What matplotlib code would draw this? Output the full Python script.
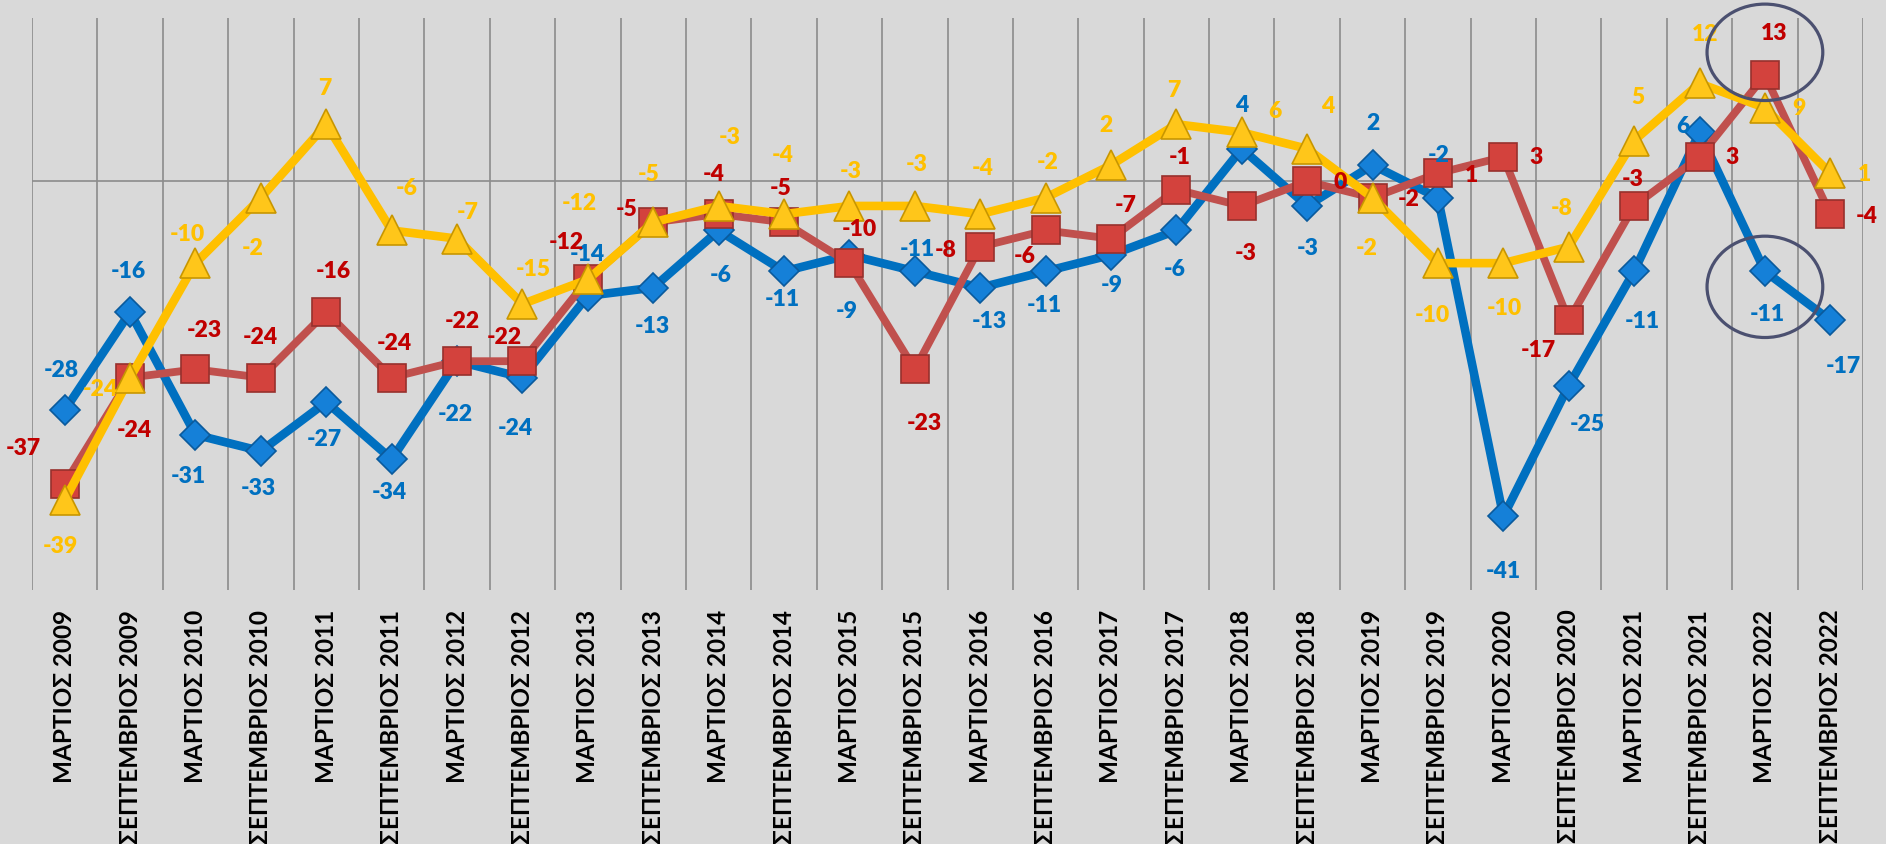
"""
三組指標折線圖 (ΜΑΡΤΙΟΣ 2009 - ΣΕΠΤΕΜΒΡΙΟΣ 2022)，帶數值標籤與圈注。
"""

import numpy as np
import matplotlib.pyplot as plt
from matplotlib.patches import Ellipse


# ==================== 數據 ====================

CATEGORIES = [
    "ΜΑΡΤΙΟΣ 2009", "ΣΕΠΤΕΜΒΡΙΟΣ 2009", "ΜΑΡΤΙΟΣ 2010", "ΣΕΠΤΕΜΒΡΙΟΣ 2010",
    "ΜΑΡΤΙΟΣ 2011", "ΣΕΠΤΕΜΒΡΙΟΣ 2011", "ΜΑΡΤΙΟΣ 2012", "ΣΕΠΤΕΜΒΡΙΟΣ 2012",
    "ΜΑΡΤΙΟΣ 2013", "ΣΕΠΤΕΜΒΡΙΟΣ 2013", "ΜΑΡΤΙΟΣ 2014", "ΣΕΠΤΕΜΒΡΙΟΣ 2014",
    "ΜΑΡΤΙΟΣ 2015", "ΣΕΠΤΕΜΒΡΙΟΣ 2015", "ΜΑΡΤΙΟΣ 2016", "ΣΕΠΤΕΜΒΡΙΟΣ 2016",
    "ΜΑΡΤΙΟΣ 2017", "ΣΕΠΤΕΜΒΡΙΟΣ 2017", "ΜΑΡΤΙΟΣ 2018", "ΣΕΠΤΕΜΒΡΙΟΣ 2018",
    "ΜΑΡΤΙΟΣ 2019", "ΣΕΠΤΕΜΒΡΙΟΣ 2019", "ΜΑΡΤΙΟΣ 2020", "ΣΕΠΤΕΜΒΡΙΟΣ 2020",
    "ΜΑΡΤΙΟΣ 2021", "ΣΕΠΤΕΜΒΡΙΟΣ 2021", "ΜΑΡΤΙΟΣ 2022", "ΣΕΠΤΕΜΒΡΙΟΣ 2022",
]

BLUE = [-28, -16, -31, -33, -27, -34, -22, -24, -14, -13, -6, -11, -9, -11,
        -13, -11, -9, -6, 4, -3, 2, -2, -41, -25, -11, 6, -11, -17]
RED = [-37, -24, -23, -24, -16, -24, -22, -22, -12, -5, -4, -5, -10, -23,
       -8, -6, -7, -1, -3, 0, -2, 1, 3, -17, -3, 3, 13, -4]
YELLOW = [-39, -24, -10, -2, 7, -6, -7, -15, -12, -5, -3, -4, -3, -3,
          -4, -2, 2, 7, 6, 4, -2, -10, -10, -8, 5, 12, 9, 1]

# 標籤位移 (pixels: dx 右正, dy 下正)
BLUE_OFFSETS = [(-3, -41), (-2, -42), (-7, 41), (-3, 36), (-2, 36), (-2, 32), (-2, 52),
                (-7, 50), (-1, -42), (-1, 38), (2, 44), (-2, 27), (-3, 56), (3, -23),
                (9, 33), (-1, 33), (1, 30), (-2, 38), (0, -44), (1, 42), (0, -43),
                (1, -43), (0, 54), (19, 38), (8, 49), (-17, -7), (2, 42), (13, 45)]
RED_OFFSETS = [(-41, -36), (4, 52), (9, -40), (-1, -41), (7, -42), (3, -35), (5, -41),
               (-18, -25), (-22, -38), (-27, -14), (-5, -41), (-3, -35), (10, -35), (10, 53),
               (-35, 3), (-21, 25), (15, -34), (3, -33), (4, 47), (33, 0), (36, 1),
               (34, 1), (33, 0), (-30, 29), (-1, -27), (33, 0), (9, -43), (36, 1)]
YELLOW_OFFSETS = [(-4, 45), (-30, 11), (-8, -30), (-8, 50), (-2, -37), (15, -43), (11, -27),
                  (11, -36), (-9, -77), (-5, -49), (11, -69), (-1, -60), (1, -35), (2, -42),
                  (2, -47), (2, -36), (-5, -41), (-3, -35), (33, -22), (20, -43), (-6, 50),
                  (-6, 51), (1, 44), (-7, -39), (4, -44), (6, -50), (34, 0), (34, 0)]

# 圈出的點 (index)
HIGHLIGHT_IDX = 26

# ==================== 樣式 ====================

BG = "#D9D9D9"
GRID = "#8C8C8C"
W, H, DPI = 1886, 845, 100


def main():
    plt.rcParams["font.family"] = ["Lato", "DejaVu Sans"]

    fig = plt.figure(figsize=(W / DPI, H / DPI), dpi=DPI, facecolor=BG)
    ax = fig.add_axes([32 / W, 1 - 591 / H, (1863 - 32) / W, (591 - 19) / H])
    ax.set_facecolor(BG)

    x = np.arange(len(CATEGORIES))

    # 網格
    ax.set_xticks(np.arange(-0.5, len(CATEGORIES), 1), minor=True)
    ax.grid(which="minor", axis="x", color=GRID, linewidth=1.2)
    ax.axhline(0, color=GRID, linewidth=1.2, zorder=1)

    # 折線
    ax.plot(x, BLUE, color="#0070C0", linewidth=6.2, marker="D", markersize=15.5,
            markerfacecolor="#1580D8", markeredgecolor="#0A5A9C", markeredgewidth=1.2, zorder=3)
    ax.plot(x, RED, color="#C0504D", linewidth=5.6, marker="s", markersize=20.5,
            markerfacecolor="#D3423D", markeredgecolor="#97302D", markeredgewidth=1.2, zorder=4)
    ax.plot(x, YELLOW, color="#FFC000", linewidth=6.2, marker="^", markersize=21,
            markerfacecolor="#FFC61A", markeredgecolor="#C89600", markeredgewidth=1.2, zorder=5)

    # 數值標籤
    for values, offsets, color in [(BLUE, BLUE_OFFSETS, "#0070C0"),
                                   (RED, RED_OFFSETS, "#C00000"),
                                   (YELLOW, YELLOW_OFFSETS, "#FFC000")]:
        for i, v in enumerate(values):
            dx, dy = offsets[i]
            ax.annotate(f"{v}", (x[i], v), xytext=(dx, -dy), textcoords="offset pixels",
                        ha="center", va="center", fontsize=16.5, fontweight="heavy",
                        color=color, zorder=6, annotation_clip=False)

    # 橢圓圈注
    for cy, h in [(RED[HIGHLIGHT_IDX] + 2.8, 11.8), (BLUE[HIGHLIGHT_IDX] - 1.9, 12.4)]:
        ax.add_patch(Ellipse((x[HIGHLIGHT_IDX], cy), 1.77, h, fill=False,
                             edgecolor="#4B5070", linewidth=2.3, zorder=7, clip_on=False))

    ax.set_xlim(-0.5, len(CATEGORIES) - 0.5)
    ax.set_ylim(-50, 20)
    ax.set_yticks([])
    ax.set_xticks(x)
    ax.set_xticklabels(CATEGORIES, rotation=90, fontsize=17.5, fontweight="bold",
                       va="top", ha="center")
    ax.tick_params(axis="x", which="both", length=0, pad=13.5)
    for spine in ax.spines.values():
        spine.set_visible(False)

    fig.savefig("out.png", dpi=DPI, facecolor=BG)


if __name__ == "__main__":
    main()
